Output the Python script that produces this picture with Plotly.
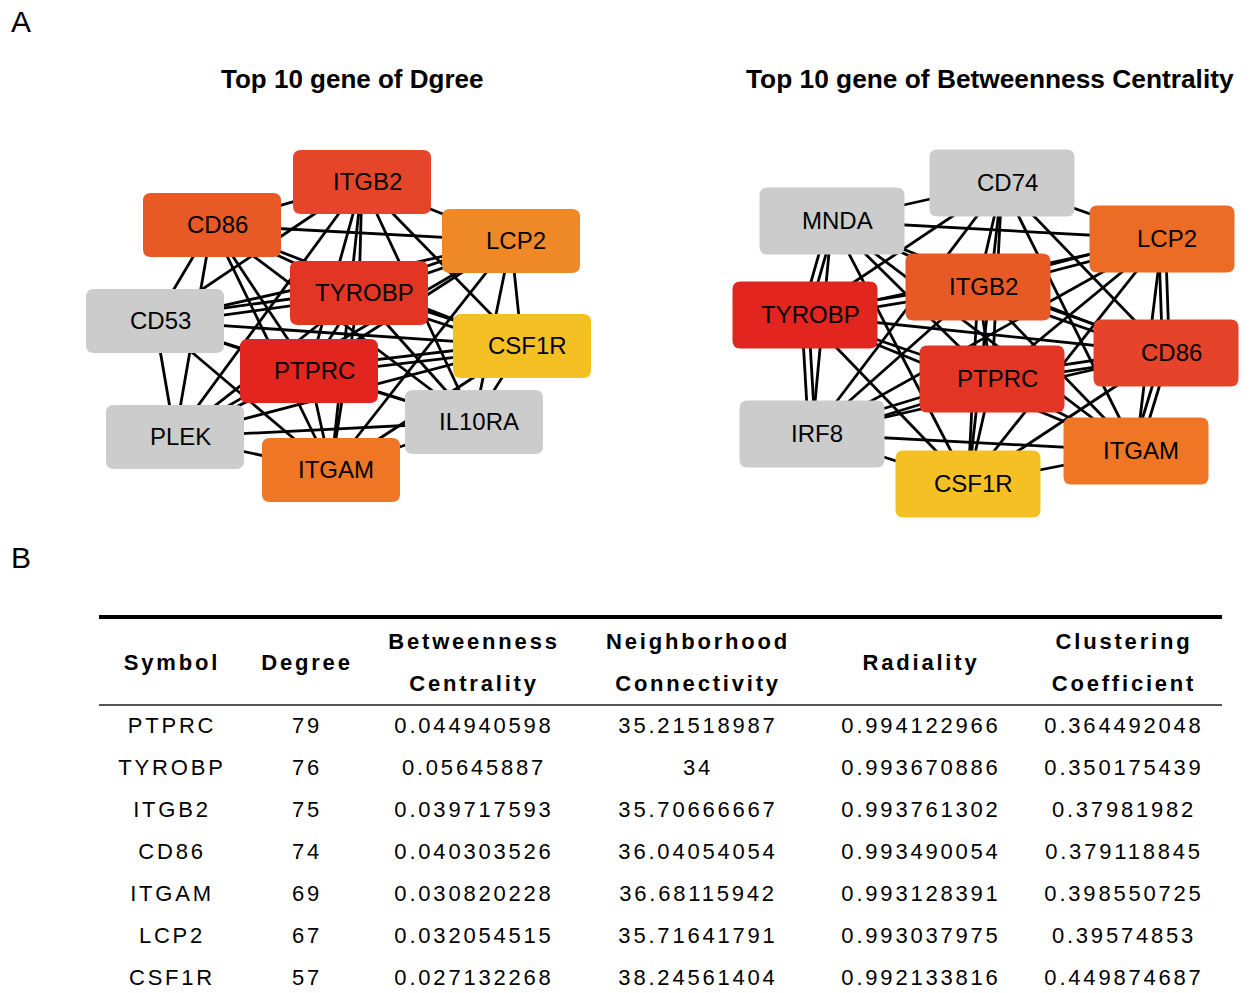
import plotly.graph_objects as go
import itertools

# ---------------- data ----------------
# Panel A left: top 10 genes by degree (node positions in figure pixels)
deg_genes = ["ITGB2", "CD86", "LCP2", "TYROBP", "CD53", "CSF1R", "PTPRC", "IL10RA", "PLEK", "ITGAM"]
deg_x = [362, 212, 511, 359, 155, 522, 309, 474, 175, 331]
deg_y = [182, 225, 241, 293, 321, 346, 371, 422, 437, 470]
deg_colors = ["#E5462A", "#E85A25", "#EF8927", "#E33524", "#CCCCCC", "#F4C024", "#E2251F", "#CCCCCC", "#CCCCCC", "#EE7624"]
deg_double = [("TYROBP", "CD53"), ("TYROBP", "LCP2"), ("TYROBP", "CSF1R"), ("PTPRC", "CSF1R")]

# Panel A right: top 10 genes by betweenness centrality
btw_genes = ["CD74", "MNDA", "LCP2", "ITGB2", "TYROBP", "CD86", "PTPRC", "IRF8", "ITGAM", "CSF1R"]
btw_x = [1002, 832, 1162, 978, 805, 1166, 992, 812, 1136, 968]
btw_y = [183, 221, 239, 287, 315, 353, 379, 434, 451, 484]
btw_colors = ["#CCCCCC", "#CCCCCC", "#EC6B25", "#E85A25", "#E2251F", "#E5442A", "#E33524", "#CCCCCC", "#EE7624", "#F4C024"]
btw_double = [("TYROBP", "IRF8"), ("MNDA", "TYROBP"), ("LCP2", "CD86"), ("CD86", "ITGAM"),
              ("ITGB2", "LCP2"), ("ITGB2", "CD86"), ("PTPRC", "IRF8"), ("PTPRC", "CD86"), ("ITGB2", "TYROBP")]

# Panel B table
headers = [["Symbol"], ["Degree"], ["Betweenness", "Centrality"], ["Neighborhood", "Connectivity"],
           ["Radiality"], ["Clustering", "Coefficient"]]
symbols = ["PTPRC", "TYROBP", "ITGB2", "CD86", "ITGAM", "LCP2", "CSF1R"]
degree = ["79", "76", "75", "74", "69", "67", "57"]
betweenness = ["0.044940598", "0.05645887", "0.039717593", "0.040303526", "0.030820228", "0.032054515", "0.027132268"]
neighborhood = ["35.21518987", "34", "35.70666667", "36.04054054", "36.68115942", "35.71641791", "38.24561404"]
radiality = ["0.994122966", "0.993670886", "0.993761302", "0.993490054", "0.993128391", "0.993037975", "0.992133816"]
clustering = ["0.364492048", "0.350175439", "0.37981982", "0.379118845", "0.398550725", "0.39574853", "0.449874687"]

# ---------------- layout constants ----------------
W, H = 1254, 993
FONT = "Liberation Sans, Arial, sans-serif"
col_x = [172, 307, 474, 698, 921, 1124]
row_y0, row_dy = 727, 42
head_y_single, head_y_two = 664, (643, 685)
table_x0, table_x1 = 99, 1222

fig = go.Figure()
shapes, annotations = [], []


def rounded_path(cx, cy, w, h, r):
    x0, x1, y0, y1 = cx - w / 2, cx + w / 2, cy - h / 2, cy + h / 2
    return (f"M {x0+r},{y0} L {x1-r},{y0} Q {x1},{y0} {x1},{y0+r} L {x1},{y1-r} "
            f"Q {x1},{y1} {x1-r},{y1} L {x0+r},{y1} Q {x0},{y1} {x0},{y1-r} "
            f"L {x0},{y0+r} Q {x0},{y0} {x0+r},{y0} Z")


def add_network(genes, xs, ys, colors, doubles, bw, bh):
    pos = {g: (x, y) for g, x, y in zip(genes, xs, ys)}
    ex, ey = [], []
    dset = {frozenset(p) for p in doubles}
    for a, b in itertools.combinations(genes, 2):
        (x0, y0), (x1, y1) = pos[a], pos[b]
        if frozenset((a, b)) in dset:
            dx, dy = x1 - x0, y1 - y0
            L = (dx * dx + dy * dy) ** 0.5
            nx, ny = -dy / L * 3.4, dx / L * 3.4
            for s in (1, -1):
                ex += [x0 + s * nx, x1 + s * nx, None]
                ey += [y0 + s * ny, y1 + s * ny, None]
        else:
            ex += [x0, x1, None]
            ey += [y0, y1, None]
    fig.add_trace(go.Scatter(x=ex, y=ey, mode="lines", line=dict(color="black", width=2.8),
                             hoverinfo="skip", showlegend=False))
    for g, x, y, c in zip(genes, xs, ys, colors):
        shapes.append(dict(type="path", xref="x", yref="y", path=rounded_path(x, y, bw, bh, 8),
                           fillcolor=c, line=dict(width=0), layer="above"))
        annotations.append(dict(x=x + 5, y=y - 1, xref="x", yref="y", text=g, showarrow=False,
                                font=dict(family=FONT, size=24, color="black")))


add_network(deg_genes, deg_x, deg_y, deg_colors, deg_double, 138, 64)
add_network(btw_genes, btw_x, btw_y, btw_colors, btw_double, 145, 67)

# titles & panel labels
annotations.append(dict(x=352, y=79, xref="x", yref="y", text="<b>Top 10 gene of Dgree</b>", showarrow=False,
                        font=dict(family=FONT, size=26, color="black")))
annotations.append(dict(x=990, y=79, xref="x", yref="y", text="<b>Top 10 gene of Betweenness Centrality</b>",
                        showarrow=False, font=dict(family=FONT, size=26.3, color="black")))
annotations.append(dict(x=21, y=21, xref="x", yref="y", text="A", showarrow=False,
                        font=dict(family=FONT, size=30, color="black")))
annotations.append(dict(x=21, y=557, xref="x", yref="y", text="B", showarrow=False,
                        font=dict(family=FONT, size=30, color="black")))

# table header text
hx, hy, ht = [], [], []
for cx, lines in zip(col_x, headers):
    if len(lines) == 1:
        hx.append(cx); hy.append(head_y_single); ht.append(f"<b>{lines[0]}</b>")
    else:
        for ly, t in zip(head_y_two, lines):
            hx.append(cx); hy.append(ly); ht.append(f"<b>{t}</b>")
fig.add_trace(go.Scatter(x=hx, y=hy, text=ht, mode="text", textposition="middle center",
                         textfont=dict(family=FONT, size=22, color="black"), hoverinfo="skip", showlegend=False))

# table body text
columns = [symbols, degree, betweenness, neighborhood, radiality, clustering]
bx, by, bt = [], [], []
for cx, col in zip(col_x, columns):
    for i, v in enumerate(col):
        bx.append(cx); by.append(row_y0 + i * row_dy); bt.append(v)
fig.add_trace(go.Scatter(x=bx, y=by, text=bt, mode="text", textposition="middle center",
                         textfont=dict(family=FONT, size=22, color="black"), hoverinfo="skip", showlegend=False))

# table rules
shapes.append(dict(type="line", xref="x", yref="y", x0=table_x0, x1=table_x1, y0=617, y1=617,
                   line=dict(color="black", width=4)))
shapes.append(dict(type="line", xref="x", yref="y", x0=table_x0, x1=table_x1, y0=705, y1=705,
                   line=dict(color="#555555", width=2)))

fig.update_layout(
    width=W, height=H, margin=dict(l=0, r=0, t=0, b=0),
    paper_bgcolor="white", plot_bgcolor="white",
    xaxis=dict(range=[0, W], visible=False, fixedrange=True),
    yaxis=dict(range=[H, 0], visible=False, fixedrange=True),
    shapes=shapes, annotations=annotations, showlegend=False,
)

post = """
document.body.style.margin = '0';
document.body.style.padding = '0';
var gd = document.getElementById('{plot_id}');
gd.querySelectorAll('.textpoint text').forEach(function(t){ t.style.letterSpacing = '2.8px'; });
"""
fig.write_html("out.html", post_script=post, config={"displayModeBar": False})
